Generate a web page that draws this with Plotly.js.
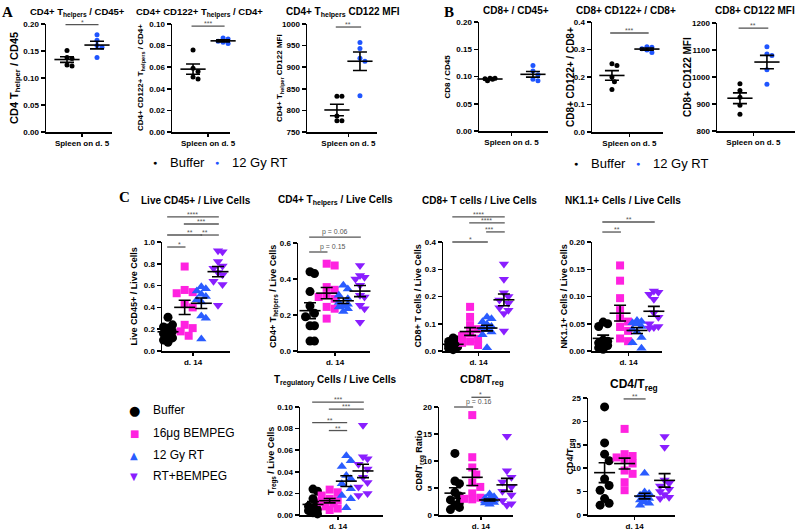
<!DOCTYPE html>
<html><head><meta charset="utf-8">
<script src="https://cdn.plot.ly/plotly-3.0.1.min.js"></script>
<style>html,body{margin:0;padding:0;background:#fff}#chart{width:800px;height:531px}</style>
</head><body><div id="chart"></div>
<script>
// ================= DATA =================
const groupsAB = ['Buffer', '12 Gy RT'];
const groupsC = ['Buffer', '16μg BEMPEG', '12 Gy RT', 'RT+BEMPEG'];

// Panel A (spleen, day 5)
const a1_buffer = [0.151, 0.138, 0.136, 0.124, 0.122];
const a1_rt     = [0.180, 0.170, 0.160, 0.157, 0.138];
const a2_buffer = [0.076, 0.059, 0.056, 0.051, 0.049];
const a2_rt     = [0.087, 0.086, 0.084, 0.083, 0.082];
const a3_buffer = [833, 833, 787, 776, 776];
const a3_rt     = [957, 943, 921, 914, 834];
// Panel B (spleen, day 5)
const b1_buffer = [0.097, 0.097, 0.096, 0.095, 0.092];
const b1_rt     = [0.120, 0.110, 0.103, 0.095, 0.092];
const b2_buffer = [0.248, 0.242, 0.200, 0.183, 0.155];
const b2_rt     = [0.310, 0.308, 0.303, 0.298, 0.289];
const b3_buffer = [975, 950, 925, 895, 862];
const b3_rt     = [1112, 1085, 1080, 1027, 973];
// Panel C (day 14) — Buffer, BEMPEG, RT, RT+BEMPEG
const c1_buffer = [0.31, 0.24, 0.22, 0.21, 0.18, 0.16, 0.14, 0.12, 0.10, 0.08];
const c1_bempeg = [0.775, 0.56, 0.54, 0.53, 0.43, 0.40, 0.24, 0.21, 0.18, 0.14];
const c1_rt     = [0.59, 0.57, 0.55, 0.52, 0.50, 0.47, 0.45, 0.32, 0.30, 0.11];
const c1_combo  = [0.92, 0.91, 0.82, 0.78, 0.76, 0.72, 0.70, 0.64, 0.61, 0.42];

const c2_buffer = [0.44, 0.43, 0.33, 0.25, 0.21, 0.19, 0.14, 0.14, 0.055, 0.055];
const c2_bempeg = [0.485, 0.475, 0.355, 0.34, 0.31, 0.30, 0.29, 0.245, 0.235, 0.18];
const c2_rt     = [0.365, 0.345, 0.31, 0.29, 0.27, 0.26, 0.25, 0.245, 0.235, 0.22];
const c2_combo  = [0.475, 0.42, 0.41, 0.40, 0.365, 0.31, 0.30, 0.254, 0.235, 0.16];

const c3_buffer = [0.048, 0.04, 0.035, 0.03, 0.025, 0.02, 0.018, 0.015, 0.01, 0.005];
const c3_bempeg = [0.162, 0.125, 0.095, 0.08, 0.065, 0.055, 0.045, 0.035, 0.03, 0.022];
const c3_rt     = [0.125, 0.118, 0.107, 0.098, 0.09, 0.085, 0.078, 0.07, 0.06, 0.012];
const c3_combo  = [0.319, 0.263, 0.214, 0.20, 0.187, 0.175, 0.159, 0.15, 0.138, 0.073];

const c4_buffer = [0.053, 0.05, 0.045, 0.02, 0.018, 0.015, 0.012, 0.01, 0.006, 0.003];
const c4_bempeg = [0.157, 0.129, 0.097, 0.075, 0.06, 0.054, 0.044, 0.037, 0.023, 0.018];
const c4_rt     = [0.056, 0.054, 0.052, 0.05, 0.045, 0.04, 0.035, 0.025, 0.015, 0.005];
const c4_combo  = [0.11, 0.108, 0.104, 0.095, 0.07, 0.062, 0.05, 0.045, 0.043, 0.042];

const c5_buffer = [0.024, 0.022, 0.015, 0.011, 0.008, 0.006, 0.005, 0.004, 0.002, 0.001];
const c5_bempeg = [0.0235, 0.021, 0.018, 0.015, 0.0137, 0.012, 0.0107, 0.008, 0.006, 0.0046];
const c5_rt     = [0.0549, 0.0503, 0.045, 0.0366, 0.0335, 0.029, 0.0244, 0.018, 0.015, 0.0067];
const c5_combo  = [0.0832, 0.054, 0.052, 0.047, 0.0427, 0.035, 0.030, 0.026, 0.020, 0.018];

const c6_buffer = [11.4, 6.3, 5.8, 4.2, 3.5, 2.8, 2.3, 1.8, 1.4, 1.0];
const c6_bempeg = [18.5, 10.7, 8.8, 7.5, 6.0, 5.2, 4.0, 3.2, 3.0, 2.9];
const c6_rt     = [3.9, 3.4, 3.1, 3.0, 2.8, 2.6, 2.5, 2.3, 2.2, 2.0];
const c6_combo  = [14.6, 8.2, 7.0, 6.1, 5.2, 4.4, 3.7, 2.7, 2.1, 1.8];

const c7_buffer = [23.1, 15.4, 13.0, 11.6, 7.7, 6.3, 5.3, 3.5, 2.5, 2.1];
const c7_bempeg = [18.4, 13.0, 12.6, 12.3, 12.0, 11.0, 9.5, 8.8, 7.0, 5.3];
const c7_rt     = [8.9, 4.9, 4.6, 4.2, 3.8, 3.5, 3.2, 2.8, 2.5, 2.1];
const c7_combo  = [16.8, 14.5, 7.5, 6.8, 6.2, 5.5, 5.0, 4.4, 3.8, 3.5];

// significance comparisons: [group from, group to, bar height (data units), label]
const a1_sig = [[1, 2, 0.199, '*']];
const a2_sig = [[1, 2, 0.098, '***']];
const a3_sig = [[1, 2, 993, '**']];
const b1_sig = [];
const b2_sig = [[1, 2, 0.36, '***']];
const b3_sig = [[1, 2, 1181, '**']];
const c1_sig = [[1, 4, 1.23, '****'], [2, 4, 1.165, '***'], [1, 3, 1.064, '**'], [3, 4, 1.064, '**'], [1, 2, 0.954, '*']];
const c2_sig = [[1, 4, 0.633, 'p = 0.06'], [1, 2, 0.55, 'p = 0.15']];
const c3_sig = [[1, 4, 0.492, '****'], [2, 4, 0.470, '****'], [3, 4, 0.437, '***'], [1, 3, 0.40, '*']];
const c4_sig = [[1, 4, 0.2367, '**'], [1, 2, 0.2183, '**']];
const c5_sig = [[1, 4, 0.1045, '***'], [2, 4, 0.098, '***'], [1, 3, 0.0855, '**'], [2, 3, 0.0782, '**']];
const c6_sig = [[1, 2, 20, 'p = 0.16'], [2, 3, 21.8, '*']];
const c7_sig = [[2, 3, 24.8, '**']];

// ================= STYLE / LAYOUT =================
const FONT = '"Liberation Sans", Arial, Helvetica, sans-serif';
const W = 800, H = 531;
const colAB = ['#000000', '#1f55ff'];
const colC = ['#000000', '#ff22e0', '#2a5cff', '#8a1eff'];
const symC = ['circle', 'square', 'triangle-up', 'triangle-down'];
const sizeC = [9, 8, 9, 9];

const panels = [
  {d:[a1_buffer,a1_rt], sig:a1_sig, ab:true, x:[46,112], y:[24,132], xr:[0.3,2.5], yr:[0,0.2], dt:0.05, fmt:'.2f',
   title:'CD4+ T<sub>helpers</sub> / CD45+', tx:77, ty:12, tsz:9.5,
   ytitle:'CD4 T<sub>helper</sub> / CD45', ytx:15, ytsz:11, xlabel:'Spleen on d. 5'},
  {d:[a2_buffer,a2_rt], sig:a2_sig, ab:true, x:[172,230], y:[24,132], xr:[0.3,2.23], yr:[0,0.1], dt:0.02, fmt:'.2f',
   title:'CD4+ CD122+ T<sub>helpers</sub> / CD4+', tx:199, ty:12, tsz:9.5,
   ytitle:'CD4+ CD122+ T<sub>helpers</sub> / CD4+', ytx:141, ytsz:8, xlabel:'Spleen on d. 5'},
  {d:[a3_buffer,a3_rt], sig:a3_sig, ab:true, x:[307,377], y:[24,132], xr:[-0.3,2.74], yr:[750,1000], dt:50, fmt:'d',
   title:'CD4+ T<sub>helpers</sub> CD122 MFI', tx:343, ty:12, tsz:10,
   ytitle:'CD4+ T<sub>helper</sub> CD122 MFI', ytx:280, ytsz:8, xlabel:'Spleen on d. 5'},
  {d:[b1_buffer,b1_rt], sig:b1_sig, ab:true, x:[479,548], y:[22,131], xr:[0.744,2.35], yr:[0,0.2], dt:0.05, fmt:'.2f',
   title:'CD8+ / CD45+', tx:516, ty:11, tsz:10,
   ytitle:'CD8 / CD45', ytx:447, ytsz:8, xlabel:'Spleen on d. 5'},
  {d:[b2_buffer,b2_rt], sig:b2_sig, ab:true, x:[592,663], y:[22,132], xr:[0.43,2.46], yr:[0,0.4], dt:0.1, fmt:'.1f',
   title:'CD8+ CD122+ / CD8+', tx:626, ty:11, tsz:10,
   ytitle:'CD8+ CD122+ / CD8+', ytx:571, ytsz:10, xlabel:'Spleen on d. 5'},
  {d:[b3_buffer,b3_rt], sig:b3_sig, ab:true, x:[717,795], y:[23,131], xr:[0.15,3.04], yr:[800,1200], dt:100, fmt:'d',
   title:'CD8+ CD122 MFI', tx:755, ty:11, tsz:10,
   ytitle:'CD8+ CD122 MFI', ytx:688, ytsz:10, xlabel:'Spleen on d. 5'},
  {d:[c1_buffer,c1_bempeg,c1_rt,c1_combo], sig:c1_sig, x:[162,230], y:[242,351], xr:[0.64,4.72], yr:[0,1], dt:0.2, fmt:'.1f',
   title:'Live CD45+ / Live Cells', tx:196, ty:201, tsz:10,
   ytitle:'Live CD45+ / Live Cells', ytx:133, ytsz:9, xlabel:'d. 14'},
  {d:[c2_buffer,c2_bempeg,c2_rt,c2_combo], sig:c2_sig, x:[298,370], y:[243,351], xr:[0.28,4.6], yr:[0,0.6], dt:0.2, fmt:'.1f',
   title:'CD4+ T<sub>helpers</sub> / Live Cells', tx:335, ty:201, tsz:10,
   ytitle:'CD4+ T<sub>helpers</sub> / Live Cells', ytx:274, ytsz:9, xlabel:'d. 14'},
  {d:[c3_buffer,c3_bempeg,c3_rt,c3_combo], sig:c3_sig, x:[443,510], y:[242,351], xr:[0.4,4.36], yr:[0,0.4], dt:0.1, fmt:'.1f',
   title:'CD8+ T cells / Live Cells', tx:479, ty:201, tsz:10,
   ytitle:'CD8+ T cells / Live Cells', ytx:417, ytsz:9, xlabel:'d. 14'},
  {d:[c4_buffer,c4_bempeg,c4_rt,c4_combo], sig:c4_sig, x:[592,662], y:[242,351], xr:[0.34,4.48], yr:[0,0.2], dt:0.05, fmt:'.2f',
   title:'NK1.1+ Cells / Live Cells', tx:623, ty:201, tsz:10,
   ytitle:'NK1.1+ Cells / Live Cells', ytx:563, ytsz:9, xlabel:'d. 14'},
  {d:[c5_buffer,c5_bempeg,c5_rt,c5_combo], sig:c5_sig, x:[300,383], y:[407,515], xr:[0.22,5.2], yr:[0,0.1], dt:0.02, fmt:'.2f',
   title:'T<sub>regulatory</sub> Cells / Live Cells', tx:335, ty:380, tsz:10,
   ytitle:'T<sub>regs</sub> / Live Cells', ytx:272, ytsz:9, xlabel:'d. 14'},
  {d:[c6_buffer,c6_bempeg,c6_rt,c6_combo], sig:c6_sig, x:[439,513], y:[407,515], xr:[0.08,4.35], yr:[0,20], dt:5, fmt:'d',
   title:'CD8/T<sub>reg</sub>', tx:482, ty:380, tsz:11,
   ytitle:'CD8/T<sub>reg</sub> Ratio', ytx:420, ytsz:9, xlabel:'d. 14'},
  {d:[c7_buffer,c7_bempeg,c7_rt,c7_combo], sig:c7_sig, x:[588,675], y:[398,515], xr:[0.17,4.52], yr:[0,25], dt:5, fmt:'d',
   title:'CD4/T<sub>reg</sub>', tx:634, ty:385, tsz:12,
   ytitle:'CD4/T<sub>reg</sub>', ytx:570, ytsz:9, xlabel:'d. 14'}
];

const layout = {
  width: W, height: H, margin: {l:0, r:0, t:0, b:0},
  paper_bgcolor: '#ffffff', plot_bgcolor: 'rgba(0,0,0,0)',
  showlegend: false, font: {family: FONT, color: '#000'},
  shapes: [], annotations: []
};
const traces = [];

function mean(a){ return a.reduce((s,v)=>s+v,0)/a.length; }
function sem(a){ const m = mean(a); const sd = Math.sqrt(a.reduce((s,v)=>s+(v-m)*(v-m),0)/(a.length-1)); return sd/Math.sqrt(a.length); }

// deterministic beeswarm-like horizontal spread (pixel based)
function swarm(vals, center, pxX, pxY, d, maxOff){
  const order = vals.map((v,i)=>i).sort((a,b)=>vals[b]-vals[a]);
  const placed = []; const xs = new Array(vals.length);
  const step = d*0.5;
  const cands = [0];
  for(let k=1; k*step<=maxOff+0.01; k++){ cands.push(k*step, -k*step); }
  for(const i of order){
    const yp = vals[i]*pxY;
    let best = 0, bestScore = -1;
    for(const o of cands){
      let md = Infinity;
      for(const p of placed){ md = Math.min(md, Math.hypot(p.x-o, p.y-yp)); }
      if(md >= d*0.95){ best = o; bestScore = Infinity; break; }
      if(md > bestScore + 0.5){ bestScore = md; best = o; }
    }
    placed.push({x:best, y:yp});
    xs[i] = center + best/pxX;
  }
  return xs;
}

panels.forEach((p, idx) => {
  const n = idx + 1;
  const xa = n === 1 ? 'x' : 'x' + n;
  const ya = n === 1 ? 'y' : 'y' + n;
  const xk = n === 1 ? 'xaxis' : 'xaxis' + n;
  const yk = n === 1 ? 'yaxis' : 'yaxis' + n;
  const ng = p.d.length;
  const mid = (1 + ng) / 2;

  layout[xk] = {
    domain: [p.x[0]/W, p.x[1]/W], range: p.xr, anchor: ya,
    showline: true, linewidth: 1.5, linecolor: '#000', mirror: false,
    ticks: 'outside', ticklen: 3, tickwidth: 1.5, tickcolor: '#000',
    tickmode: 'array', tickvals: [mid], ticktext: [p.xlabel],
    tickfont: {size: 8, family: FONT, color: '#000', weight: 'bold'},
    showgrid: false, zeroline: false, fixedrange: true
  };
  layout[yk] = {
    domain: [(H - p.y[1])/H, (H - p.y[0])/H], range: p.yr, anchor: xa,
    showline: true, linewidth: 1.5, linecolor: '#000',
    ticks: 'outside', ticklen: 4, tickwidth: 1.5, tickcolor: '#000',
    tickmode: 'linear', tick0: p.yr[0], dtick: p.dt, tickformat: p.fmt,
    tickfont: {size: 8, family: FONT, color: '#000', weight: 'bold'},
    showgrid: false, zeroline: false, fixedrange: true
  };

  const pxX = (p.x[1]-p.x[0])/(p.xr[1]-p.xr[0]);
  const pxY = (p.y[1]-p.y[0])/(p.yr[1]-p.yr[0]);

  const means = [], sems = [], gx = [];
  p.d.forEach((vals, g) => {
    const center = g + 1;
    const d = p.ab ? 5 : sizeC[g];
    const maxOff = p.ab ? 7 : 8;
    const xs = swarm(vals, center, pxX, pxY, d, maxOff);
    traces.push({
      type: 'scatter', mode: 'markers', x: xs, y: vals, xaxis: xa, yaxis: ya,
      name: p.ab ? groupsAB[g] : groupsC[g], cliponaxis: false, hoverinfo: 'skip',
      marker: p.ab ? {symbol: 'circle', size: 5, color: colAB[g], line: {width: 0}}
                   : {symbol: symC[g], size: sizeC[g], color: colC[g], line: {width: 0}}
    });
    means.push(mean(vals)); sems.push(sem(vals)); gx.push(center);
  });
  traces.push({
    type: 'scatter', mode: 'markers', x: gx, y: means, xaxis: xa, yaxis: ya,
    cliponaxis: false, hoverinfo: 'skip',
    marker: {symbol: 'line-ew', size: p.ab ? 18 : 15, color: '#000', line: {width: 1.6, color: '#000'}},
    error_y: {type: 'data', array: sems, visible: true, color: '#000', thickness: 1.6, width: p.ab ? 7 : 6}
  });

  // significance bars
  p.sig.forEach(s => {
    const x0 = (s[0] - 0.05 - p.xr[0])/(p.xr[1]-p.xr[0]);
    const x1 = (s[1] + 0.05 - p.xr[0])/(p.xr[1]-p.xr[0]);
    const yf = (s[2] - p.yr[0])/(p.yr[1]-p.yr[0]);
    layout.shapes.push({type: 'line', xref: xa + ' domain', yref: ya + ' domain',
      x0: x0, x1: x1, y0: yf, y1: yf, line: {color: '#555', width: 1.3}});
    const isP = s[3].startsWith('p');
    layout.annotations.push({xref: xa + ' domain', yref: ya + ' domain', x: (x0+x1)/2, y: yf,
      text: s[3], showarrow: false, yanchor: 'bottom', yshift: isP ? -1 : -3,
      font: {size: 7, color: '#555555', family: FONT}});
  });

  // panel title
  layout.annotations.push({xref: 'paper', yref: 'paper', x: p.tx/W, y: 1 - p.ty/H,
    text: p.title, showarrow: false, xanchor: 'center', yanchor: 'middle',
    font: {size: p.tsz, family: FONT, color: '#000', weight: 'bold'}});
  // y-axis title
  layout.annotations.push({xref: 'paper', yref: 'paper', x: p.ytx/W, y: 1 - ((p.y[0]+p.y[1])/2)/H,
    text: p.ytitle, showarrow: false, textangle: -90, xanchor: 'center', yanchor: 'middle',
    font: {size: p.ytsz, family: FONT, color: '#000', weight: 'bold'}});
});

// panel letters
[['A', 7, 12], ['B', 449, 12], ['C', 124, 197]].forEach(l => {
  layout.annotations.push({xref: 'paper', yref: 'paper', x: l[1]/W, y: 1 - l[2]/H, text: l[0],
    showarrow: false, xanchor: 'center', yanchor: 'middle',
    font: {size: 15, family: '"Liberation Serif", "Times New Roman", serif', color: '#000', weight: 'bold'}});
});

// legends for A and B
[[155, 162], [576, 163]].forEach(L => {
  const [lx, ly] = L;
  groupsAB.forEach((g, i) => {
    const mx = lx + i*62;
    layout.annotations.push({xref:'paper', yref:'paper', x: mx/W, y: 1 - ly/H, text: '●', showarrow:false,
      xanchor:'center', yanchor:'middle', font:{size: 7, color: colAB[i], family: FONT}});
    layout.annotations.push({xref:'paper', yref:'paper', x: (mx+13)/W, y: 1 - ly/H, text: g, showarrow:false,
      xanchor:'left', yanchor:'middle', font:{size: 13, color: '#000', family: FONT}});
  });
});

// legend for C
const glyphC = ['●', '■', '▲', '▼'];
const legCY = [410, 433, 455, 476];
groupsC.forEach((g, i) => {
  layout.annotations.push({xref:'paper', yref:'paper', x: 134/W, y: 1 - legCY[i]/H, text: glyphC[i], showarrow:false,
    xanchor:'center', yanchor:'middle', font:{size: i === 0 ? 13 : 10, color: colC[i], family: '"DejaVu Sans", sans-serif'}});
  layout.annotations.push({xref:'paper', yref:'paper', x: 151/W, y: 1 - legCY[i]/H, text: g, showarrow:false,
    xanchor:'left', yanchor:'middle', font:{size: 12, color: '#000', family: FONT}});
});

Plotly.newPlot('chart', traces, layout, {staticPlot: true, displayModeBar: false});
</script>
</body></html>
